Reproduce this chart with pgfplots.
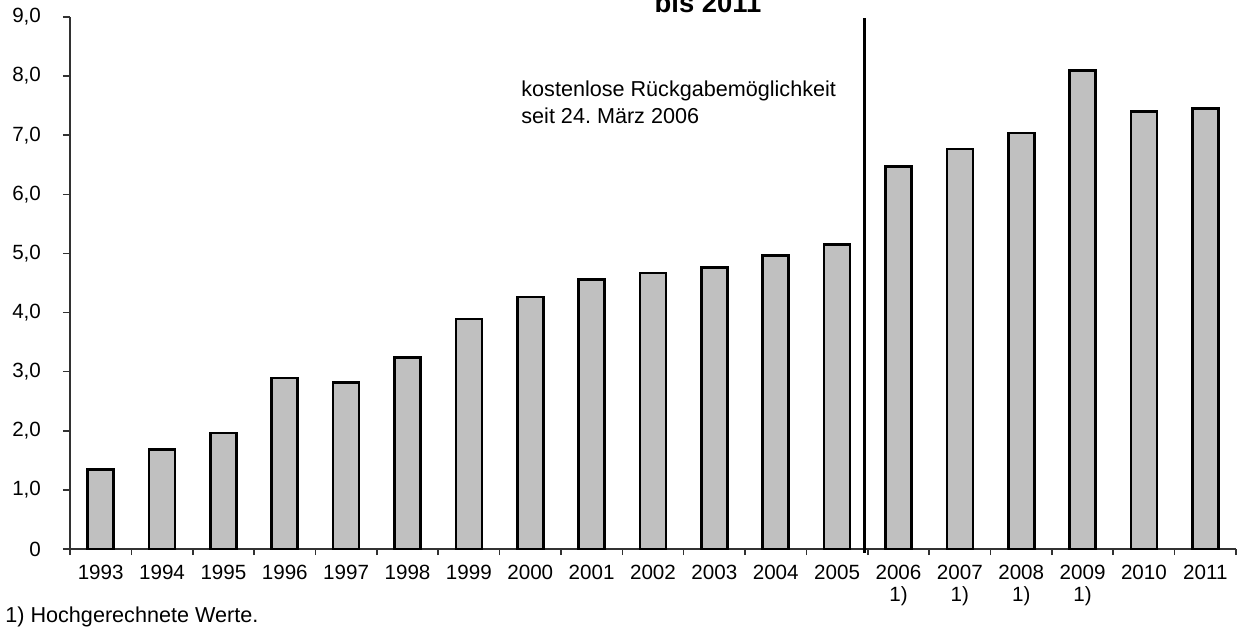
\documentclass[border=0pt]{standalone}
\usepackage{pgfplots}
\pgfplotsset{compat=1.18}
\usepackage{fontspec}
\setmainfont{Liberation Sans}
\frenchspacing
\definecolor{barfill}{RGB}{192,192,192}
\definecolor{axgray}{RGB}{50,50,50}
\begin{document}
\begin{tikzpicture}
\begin{axis}[
  scale only axis, width=583pt, height=266pt,
  xmin=0.5, xmax=19.5, ymin=0, ymax=9,
  clip=false,
  axis x line*=bottom, axis y line*=left,
  axis line style={axgray, line width=0.8pt, -},
  tick align=outside,
  xtick={1,...,19},
  xticklabels={1993,1994,1995,1996,1997,1998,1999,2000,2001,2002,2003,2004,2005,{2006\\1)},{2007\\1)},{2008\\1)},{2009\\1)},2010,2011},
  x tick label style={align=center, anchor=north, yshift=-1pt, font=\fontsize{10.3}{11}\selectfont},
  major x tick style={draw=none},
  minor xtick={0.5,1.5,...,19.5},
  minor x tick style={axgray, line width=0.8pt},
  minor tick length=3pt,
  ytick={0,1,...,9},
  yticklabels={0,{1,0},{2,0},{3,0},{4,0},{5,0},{6,0},{7,0},{8,0},{9,0}},
  y tick label style={xshift=-7.5pt, font=\fontsize{10.3}{10.5}\selectfont},
  major y tick style={axgray, line width=0.8pt},
  major tick length=3.5pt,
]
\addplot[ybar, bar width=13pt, fill=barfill, draw=black, line width=1.3pt] coordinates {
 (1,1.35) (2,1.68) (3,1.96) (4,2.89) (5,2.82) (6,3.24) (7,3.89) (8,4.26) (9,4.56) (10,4.67)
 (11,4.76) (12,4.97) (13,5.15) (14,6.47) (15,6.77) (16,7.04) (17,8.10) (18,7.40) (19,7.45)
};
\addplot[black, line width=1.5pt] coordinates {(13.45,-0.06) (13.45,8.98)};
\end{axis}
\node[anchor=base west, inner sep=0pt, font=\fontsize{10.8}{13}\selectfont] at (225.5pt,226pt) {kostenlose Rückgabemöglichkeit};
\node[anchor=base west, inner sep=0pt, font=\fontsize{10.8}{13}\selectfont] at (225.5pt,212.5pt) {seit 24. März 2006};
\node[anchor=base west, inner sep=0pt, font=\fontsize{10.8}{12}\selectfont] at (-32.5pt,-36.5pt) {1) Hochgerechnete Werte.};
\node[anchor=base, inner sep=0pt, font=\bfseries\fontsize{13.7}{14}\selectfont] at (319pt,268pt) {bis 2011};
\pgfresetboundingbox
\useasboundingbox (-35pt,-39.5pt) rectangle (584pt,274.5pt);
\end{tikzpicture}
\end{document}
